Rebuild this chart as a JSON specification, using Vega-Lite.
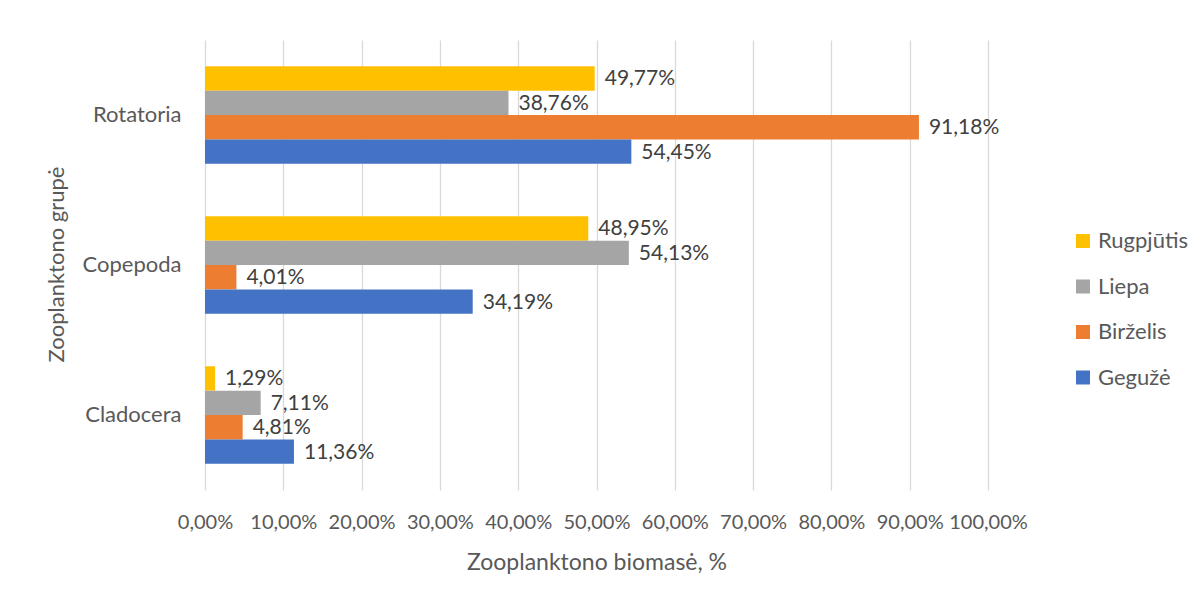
{
  "$schema": "https://vega.github.io/schema/vega-lite/v6.json",
  "width": 783,
  "height": 450,
  "autosize": {"type": "none"},
  "padding": {"left": 205, "top": 40, "right": 209, "bottom": 110},
  "background": "#ffffff",
  "config": {
    "font": "Lato",
    "view": {"stroke": null},
    "text": {"font": "Lato"}
  },
  "data": {
    "values": [
      {"group": "Rotatoria", "month": "Rugpjūtis", "value": 49.77},
      {"group": "Rotatoria", "month": "Liepa", "value": 38.76},
      {"group": "Rotatoria", "month": "Birželis", "value": 91.18},
      {"group": "Rotatoria", "month": "Gegužė", "value": 54.45},
      {"group": "Copepoda", "month": "Rugpjūtis", "value": 48.95},
      {"group": "Copepoda", "month": "Liepa", "value": 54.13},
      {"group": "Copepoda", "month": "Birželis", "value": 4.01},
      {"group": "Copepoda", "month": "Gegužė", "value": 34.19},
      {"group": "Cladocera", "month": "Rugpjūtis", "value": 1.29},
      {"group": "Cladocera", "month": "Liepa", "value": 7.11},
      {"group": "Cladocera", "month": "Birželis", "value": 4.81},
      {"group": "Cladocera", "month": "Gegužė", "value": 11.36}
    ]
  },
  "encoding": {
    "y": {
      "field": "group",
      "type": "nominal",
      "sort": ["Rotatoria", "Copepoda", "Cladocera"],
      "scale": {"paddingInner": 0.35, "paddingOuter": 0.175},
      "axis": {
        "title": "Zooplanktono grupė",
        "titleFont": "Lato",
        "titleFontSize": 22,
        "titleFontWeight": "normal",
        "titleColor": "#595959",
        "titleX": -149,
        "titleY": 224,
        "titleAngle": -90,
        "titleAlign": "center",
        "titleBaseline": "middle",
        "labelFont": "Lato",
        "labelFontSize": 22,
        "labelColor": "#595959",
        "labelPadding": 24,
        "ticks": false,
        "domain": false
      }
    },
    "yOffset": {
      "field": "month",
      "type": "nominal",
      "sort": ["Rugpjūtis", "Liepa", "Birželis", "Gegužė"],
      "scale": {"paddingInner": 0, "paddingOuter": 0}
    },
    "x": {
      "field": "value",
      "type": "quantitative",
      "scale": {"domain": [0, 100], "nice": false},
      "axis": {
        "values": [0, 10, 20, 30, 40, 50, 60, 70, 80, 90, 100],
        "labelExpr": "replace(format(datum.value, '.2f'), '.', ',') + '%'",
        "labelOverlap": false,
        "labelBound": false,
        "labelFlush": false,
        "title": "Zooplanktono biomasė, %",
        "titleFont": "Lato",
        "titleFontSize": 23,
        "titleFontWeight": "normal",
        "titleColor": "#595959",
        "titleY": 72,
        "titleBaseline": "middle",
        "labelFont": "Lato",
        "labelFontSize": 20,
        "labelColor": "#595959",
        "labelPadding": 22,
        "labelBaseline": "top",
        "grid": true,
        "gridColor": "#D9D9D9",
        "gridWidth": 1.3,
        "ticks": false,
        "domain": false
      }
    }
  },
  "layer": [
    {
      "mark": {"type": "bar"},
      "encoding": {
        "color": {
          "field": "month",
          "type": "nominal",
          "scale": {
            "domain": ["Rugpjūtis", "Liepa", "Birželis", "Gegužė"],
            "range": ["#FFC000", "#A5A5A5", "#ED7D31", "#4472C4"]
          },
          "legend": {
            "title": null,
            "orient": "none",
            "legendX": 867,
            "legendY": 190,
            "symbolType": "square",
            "symbolSize": 196,
            "symbolStrokeWidth": 0,
            "labelFont": "Lato",
            "labelFontSize": 22,
            "labelColor": "#595959",
            "labelOffset": 4,
            "rowPadding": 23.5
          }
        }
      }
    },
    {
      "mark": {"type": "text", "align": "left", "baseline": "middle", "dx": 10, "dy": 1, "fontSize": 21, "color": "#404040"},
      "encoding": {
        "text": {"value": {"expr": "replace(format(datum.value, '.2f'), '.', ',') + '%'"}}
      }
    }
  ]
}
